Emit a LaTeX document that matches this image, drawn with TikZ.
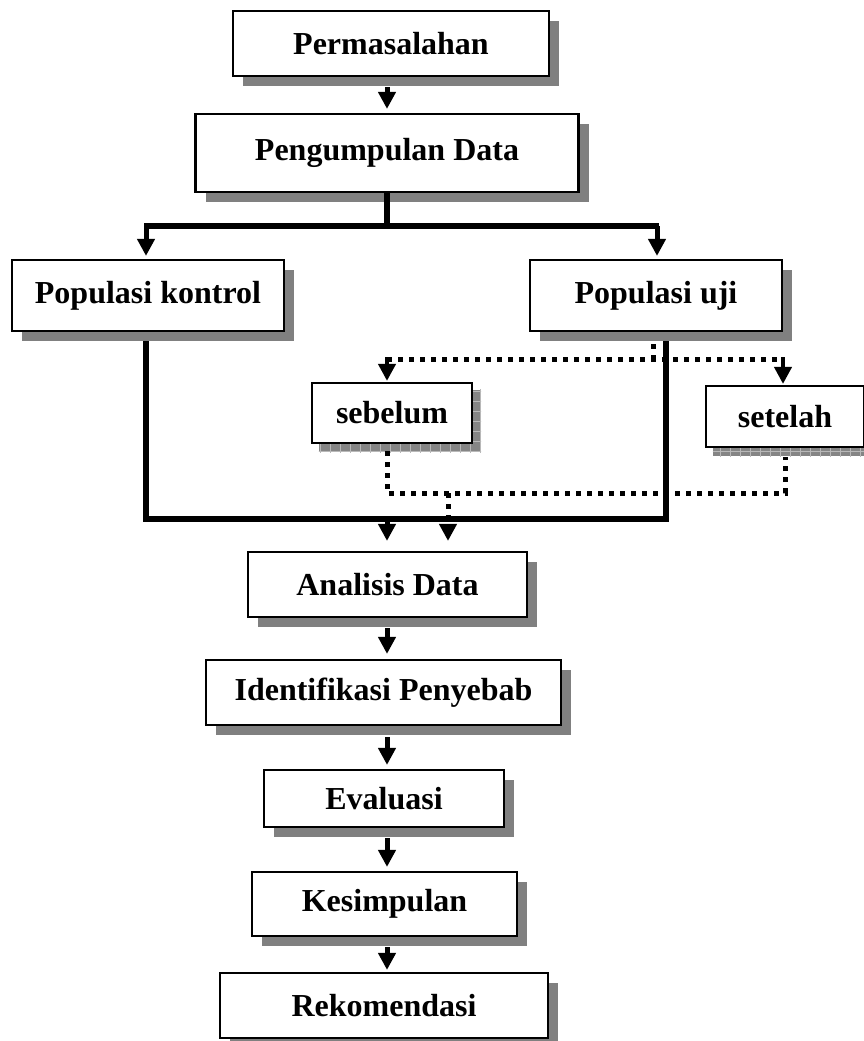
\documentclass[tikz,border=0pt]{standalone}
\usepackage{fontspec}
\setmainfont{Liberation Serif}
\usetikzlibrary{arrows.meta,shadows,patterns.meta,backgrounds,calc}

\definecolor{shadegray}{gray}{0.5}
\definecolor{meshgray}{gray}{0.52}
\definecolor{meshline}{gray}{0.72}

\tikzset{
  boxbase/.style={draw, line width=2.2pt, fill=white, inner sep=0pt,
    font=\fontsize{32}{38}\selectfont\bfseries},
  box/.style={boxbase,
    drop shadow={shadow xshift=10pt, shadow yshift=-10pt, fill=shadegray, opacity=1}},
  smallbox/.style={boxbase},
  arr/.style={line width=5pt, -{Triangle[length=17pt,width=17pt]}},
  trunk/.style={line width=5.5pt, line join=miter},
  dots/.style={line width=5pt, dash pattern=on 5pt off 6pt},
}

\begin{document}
\begin{tikzpicture}[x=1pt,y=-1pt]
\useasboundingbox (0,0) rectangle (863,1041);

% main boxes
\node[box, minimum width=316pt, minimum height=65pt] (perm) at (391,43.5) {Permasalahan};
\node[box, minimum width=383pt, minimum height=78pt] (peng) at (387,153) {Pengumpulan Data};
\node[box, minimum width=272pt, minimum height=71pt] (kon) at (148,295.5) {Populasi kontrol};
\node[box, minimum width=252pt, minimum height=71pt] (uji) at (656,295.5) {Populasi uji};
\node[box, minimum width=279pt, minimum height=65pt] (ana) at (387.5,584.5) {Analisis Data};
\node[box, minimum width=355pt, minimum height=65pt] (idf) at (383.5,692.5) {Identifikasi Penyebab};
\node[box, minimum width=240pt, minimum height=57pt] (eva) at (384,798.5) {Evaluasi};
\node[box, minimum width=265pt, minimum height=64pt] (kes) at (384.5,904) {Kesimpulan};
\node[box, minimum width=328pt, minimum height=65pt] (rek) at (384,1005.5) {Rekomendasi};

% sub-boxes with meshed shadows
\node[smallbox, minimum width=160pt, minimum height=60pt] (seb) at (392,413) {sebelum};
\node[smallbox, minimum width=158pt, minimum height=61pt] (set) at (785,416.5) {setelah};
\begin{scope}[on background layer]
  \foreach \b in {seb,set}{
    \fill[meshgray] ($(\b.south west)+(8pt,-8pt)$) rectangle ($(\b.north east)+(8pt,-8pt)$);
    \fill[pattern={Hatch[angle=0,distance=10pt,line width=0.8pt]}, pattern color=meshline]
      ($(\b.south west)+(8pt,-8pt)$) rectangle ($(\b.north east)+(8pt,-8pt)$);
  }
\end{scope}

% straight chain arrows
\coordinate (a1) at (387,87);
\draw[arr, shorten >=4pt] (a1) -- (a1 |- peng.north);

% split to the two populations
\coordinate (split) at (387,226);
\coordinate (jL) at (146,226);
\coordinate (jR) at (657,226);
\draw[trunk] (peng.south) -- (split);
\draw[trunk] ([xshift=-2pt]jL) -- ([xshift=2pt]jR);
\draw[arr, shorten >=3pt] (jL) -- (jL |- kon.north);
\draw[arr, shorten >=3pt] (jR) -- (jR |- uji.north);

% solid return line into the analysis
\coordinate (kL) at (146,341);
\coordinate (kB) at (146,519);
\coordinate (uB) at (666,519);
\coordinate (uR) at (666,341);
\draw[trunk] (kL) -- (kB) -- (uB) -- (uR);
\coordinate (m1) at (387,517);
\draw[arr, shorten >=10pt] (m1) -- (m1 |- ana.north);

% dotted branch: before / after
\coordinate (u0) at (653,344);
\coordinate (u1) at (653,359);
\coordinate (dL) at (387,359);
\coordinate (dR) at (783,359);
\draw[dots] (u0) -- (u1);
\draw[dots] (dL) -- (dR);
\draw[arr, line width=4pt, shorten >=1pt] ([yshift=2pt]dL) -- (dL |- seb.north);
\draw[arr, line width=4pt, shorten >=1pt] ([yshift=2pt]dR) -- (dR |- set.north);

\coordinate (b0) at (387,451);
\coordinate (b1) at (387,493);
\coordinate (b2) at (785,493);
\coordinate (b3) at (785,457);
\draw[dots] (b0) -- (b1) -- (b2) -- (b3);
\coordinate (e1) at (448,493);
\draw[dots, -{Triangle[length=17pt,width=17pt]}, shorten >=10pt] (e1) -- (e1 |- ana.north);

% lower chain
\coordinate (a2) at (387,628);
\draw[arr, shorten >=5pt] (a2) -- (a2 |- idf.north);
\coordinate (a3) at (387,737);
\draw[arr, shorten >=4pt] (a3) -- (a3 |- eva.north);
\coordinate (a4) at (387,838);
\draw[arr, shorten >=4pt] (a4) -- (a4 |- kes.north);
\coordinate (a5) at (387,947);
\draw[arr, shorten >=2pt] (a5) -- (a5 |- rek.north);
\end{tikzpicture}
\end{document}
